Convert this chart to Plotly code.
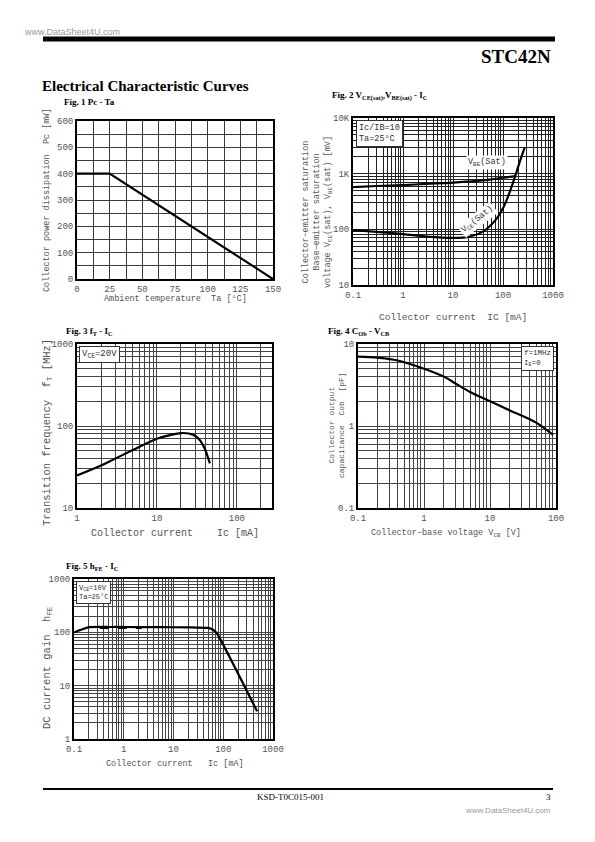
import plotly.graph_objects as go

W, H = 595, 842


def px(x):
    return x / W


def py(y):
    return 1 - y / H


# ---------------- data ----------------
# Fig. 1 Pc - Ta
pc_ta = [0, 25, 150]
pc_mw = [400, 400, 0]

# Fig. 2 VCE(sat), VBE(sat) - IC
vbe_ic = [0.1, 0.3, 1, 3, 10, 30, 60, 100, 180]
vbe_mv = [575, 600, 625, 655, 690, 740, 790, 850, 900]
vce_ic = [0.1, 0.3, 1, 3, 10, 20, 40, 70, 100, 140, 175, 210, 270]
vce_mv = [97, 90, 82, 74, 70, 73, 92, 145, 240, 500, 900, 1500, 2900]

# Fig. 3 fT - IC
ft_ic = [1, 2, 3, 5, 10, 15, 20, 25, 30, 35, 40, 44, 46]
ft_mhz = [25, 33, 40, 51, 70, 78, 82, 81, 76, 66, 52, 40, 35]

# Fig. 4 Cob - VCB
cob_v = [0.1, 0.2, 0.4, 1, 2, 3, 5, 10, 20, 50, 90]
cob_pf = [7.0, 6.8, 6.3, 5.0, 4.0, 3.3, 2.6, 2.0, 1.55, 1.1, 0.78]

# Fig. 5 hFE - IC
hfe_ic = [0.1, 0.2, 0.5, 1, 5, 20, 50, 62, 75, 480]
hfe = [100, 125, 126, 126, 125, 124, 121, 112, 95, 3.3]
hfe_dash_ic = [0.33, 2.3]
hfe_dash = [121, 121]

# tick labels
f1_x_labels = ["0", "25", "50", "75", "100", "125", "150"]
f1_y_labels = ["0", "100", "200", "300", "400", "500", "600"]
f2_x_labels = ["0.1", "1", "10", "100", "1000"]
f2_y_labels = ["10", "100", "1K", "10K"]
f3_x_labels = ["1", "10", "100"]
f3_y_labels = ["10", "100", "1000"]
f4_x_labels = ["0.1", "1", "10", "100"]
f4_y_labels = ["0.1", "1", "10"]
f5_x_labels = ["0.1", "1", "10", "100", "1000"]
f5_y_labels = ["1", "10", "100", "1000"]

MONO = "Liberation Mono"
SERIF = "Liberation Serif"
TICKC = "#555555"


def log_ticks(lo, hi, limit=None):
    major = [10 ** e for e in range(lo, hi + 1)]
    minor = [d * 10 ** e for e in range(lo, hi) for d in range(2, 10)]
    if limit is not None:
        major = [v for v in major if v <= limit]
        minor = [v for v in minor if v <= limit]
    return major, minor


fig = go.Figure()

line = dict(color="black", width=2.2)
fig.add_trace(go.Scatter(x=pc_ta, y=pc_mw, mode="lines", line=line, xaxis="x", yaxis="y"))
fig.add_trace(go.Scatter(x=vbe_ic, y=vbe_mv, mode="lines", line=dict(shape="spline", **line), xaxis="x2", yaxis="y2"))
fig.add_trace(go.Scatter(x=vce_ic, y=vce_mv, mode="lines", line=dict(shape="spline", **line), xaxis="x2", yaxis="y2"))
fig.add_trace(go.Scatter(x=ft_ic, y=ft_mhz, mode="lines", line=dict(shape="spline", **line), xaxis="x3", yaxis="y3"))
fig.add_trace(go.Scatter(x=cob_v, y=cob_pf, mode="lines", line=dict(shape="spline", **line), xaxis="x4", yaxis="y4"))
fig.add_trace(go.Scatter(x=hfe_ic, y=hfe, mode="lines", line=dict(shape="spline", smoothing=0.4, **line),
                         xaxis="x5", yaxis="y5"))
fig.add_trace(go.Scatter(x=hfe_dash_ic, y=hfe_dash, mode="lines", line=dict(color="black", width=2, dash="dash"),
                         xaxis="x5", yaxis="y5"))


def ax(domain, rng, major, labels, minor, anchor, typ="linear", grid="#555555", gw=1):
    return dict(domain=domain, range=rng, type=typ, tickmode="array", tickvals=major, ticktext=labels,
                showgrid=True, gridcolor=grid, gridwidth=gw, zeroline=False, showline=True,
                mirror=True, linecolor="black", linewidth=2, ticks="", anchor=anchor,
                minor=dict(tickmode="array", tickvals=minor, showgrid=True, gridcolor=grid,
                           gridwidth=gw, ticks=""),
                tickfont=dict(family=MONO, size=9, color=TICKC), fixedrange=True)


f1x_major = [i * 25 for i in range(7)]
f1x_minor = [12.5 + i * 25 for i in range(6)]
f1y_major = [i * 100 for i in range(7)]
f1y_minor = [50 + i * 100 for i in range(6)]

f2x = log_ticks(-1, 3)
f2y = log_ticks(1, 4)
f3x = log_ticks(0, 3, limit=280)
f3y = log_ticks(1, 3)
f4x = log_ticks(-1, 2)
f4y = log_ticks(-1, 1)
f5x = log_ticks(-1, 3)
f5y = log_ticks(0, 3)

layout = dict(
    width=W, height=H, margin=dict(l=0, r=0, t=0, b=0, autoexpand=False),
    paper_bgcolor="white", plot_bgcolor="white", showlegend=False,
    xaxis=ax([px(77), px(273)], [0, 150], f1x_major, f1_x_labels, f1x_minor, "y", grid="#3a3a3a"),
    yaxis=ax([py(279), py(121)], [0, 600], f1y_major, f1_y_labels, f1y_minor, "x", grid="#3a3a3a"),
    xaxis2=ax([px(353), px(553)], [-1, 3], f2x[0], f2_x_labels, f2x[1], "y2", typ="log", grid="#222222", gw=1.1),
    yaxis2=ax([py(285), py(118)], [1, 4], f2y[0], f2_y_labels, f2y[1], "x2", typ="log", grid="#222222", gw=1.1),
    xaxis3=ax([px(77), px(272)], [0, 2.44], f3x[0], f3_x_labels, f3x[1], "y3", typ="log", grid="#444444"),
    yaxis3=ax([py(508), py(344)], [1, 3], f3y[0], f3_y_labels, f3y[1], "x3", typ="log", grid="#444444"),
    xaxis4=ax([px(358), px(556)], [-1, 2], f4x[0], f4_x_labels, f4x[1], "y4", typ="log", grid="#444444"),
    yaxis4=ax([py(508), py(344)], [-1, 1], f4y[0], f4_y_labels, f4y[1], "x4", typ="log", grid="#444444"),
    xaxis5=ax([px(74), px(273)], [-1, 3], f5x[0], f5_x_labels, f5x[1], "y5", typ="log", grid="#444444"),
    yaxis5=ax([py(739), py(579)], [0, 3], f5y[0], f5_y_labels, f5y[1], "x5", typ="log", grid="#444444"),
)
fig.update_layout(**layout)

ann = []


def text(x, y, s, size=9, family=MONO, color=TICKC, xanchor="center", yanchor="middle", angle=0, **kw):
    ann.append(dict(x=px(x), y=py(y), xref="paper", yref="paper", text=s, showarrow=False,
                    font=dict(family=family, size=size, color=color), xanchor=xanchor,
                    yanchor=yanchor, textangle=angle, **kw))


# page header / footer
text(22, 32, "www.DataSheet4U.com", size=9, family="Liberation Sans", color="#9a9a9a", xanchor="left")
text(553, 56, "<b>STC42N</b>", size=19, family=SERIF, color="black", xanchor="right")
text(40, 86, "<b>Electrical Characteristic Curves</b>", size=15, family=SERIF, color="black", xanchor="left")
text(290, 797, "KSD-T0C015-001", size=9, family=SERIF, color="black")
text(553, 797, "3", size=9, family=SERIF, color="black", xanchor="right")
text(553, 810, "www.DataSheet4U.com", size=8, family="Liberation Sans", color="#9a9a9a", xanchor="right")

# figure headings
text(62, 102, "<b>Fig. 1 Pc - Ta</b>", size=9, family=SERIF, color="black", xanchor="left")
text(330, 96, "<b>Fig. 2 V<sub>CE(sat)</sub>,V<sub>BE(sat)</sub> - I<sub>C</sub></b>", size=9, family=SERIF,
     color="black", xanchor="left")
text(64, 331, "<b>Fig. 3 f<sub>T</sub> - I<sub>C</sub></b>", size=9, family=SERIF, color="black", xanchor="left")
text(326, 331, "<b>Fig. 4 C<sub>Ob</sub> - V<sub>CB</sub></b>", size=9, family=SERIF, color="black", xanchor="left")
text(64, 566, "<b>Fig. 5 h<sub>FE</sub> - I<sub>C</sub></b>", size=9, family=SERIF, color="black", xanchor="left")

# axis titles
text(47, 200, "Collector power dissipation  Pc [mW]", size=8.5, angle=-90)
text(175, 299, "Ambient temperature  Ta [°C]", size=8.5)
text(318, 212, "Collector−emitter saturation<br>Base−emitter saturation<br>voltage V<sub>CE</sub>(sat), V<sub>BE</sub>(sat) [mV]",
     size=8.5, angle=-90)
text(453, 318, "Collector current  IC [mA]", size=9.5)
text(47, 433, "Transition frequency  f<sub>T</sub> [MHz]", size=10.5, angle=-90)
text(175, 533, "Collector current    Ic [mA]", size=10)
text(336, 425, "Collector output<br>capacitance  Cob  [pF]", size=8, angle=-90)
text(446, 533, "Collector−base voltage V<sub>CB</sub> [V]", size=8.5)
text(47, 668, "DC current gain  h<sub>FE</sub>", size=10.5, angle=-90)
text(175, 764, "Collector current   Ic [mA]", size=8.5)

# in-plot notes
box = dict(bgcolor="white", bordercolor="#333333", borderwidth=1, borderpad=2, align="left")
text(356, 120, "Ic/IB=10<br>Ta=25°C", size=8.5, color="#333333", xanchor="left", yanchor="top", **box)
text(79, 346, "V<sub>CE</sub>=20V", size=9, color="#333333", xanchor="left", yanchor="top", **box)
text(554, 346, "f=1MHz<br>I<sub>E</sub>=0", size=7.5, color="#333333", xanchor="right", yanchor="top", **box)
text(76, 581, "V<sub>CE</sub>=10V<br>Ta=25°C", size=7, color="#333333", xanchor="left", yanchor="top", **box)
text(487, 163, "V<sub>BE</sub>(Sat)", size=8.5, color="#333333", bgcolor="white")
text(478, 220, "V<sub>CE</sub>(Sat)", size=8.5, color="#333333", angle=-38, bgcolor="white")

fig.update_layout(annotations=ann)

fig.update_layout(shapes=[
    dict(type="line", xref="paper", yref="paper", x0=px(43), x1=px(555), y0=py(39), y1=py(39),
         line=dict(color="black", width=5)),
    dict(type="line", xref="paper", yref="paper", x0=px(43), x1=px(553), y0=py(789), y1=py(789),
         line=dict(color="black", width=2)),
])

fig.write_html("out.html", config={"displayModeBar": False},
               post_script="document.body.style.margin='0';document.body.style.padding='0';")
